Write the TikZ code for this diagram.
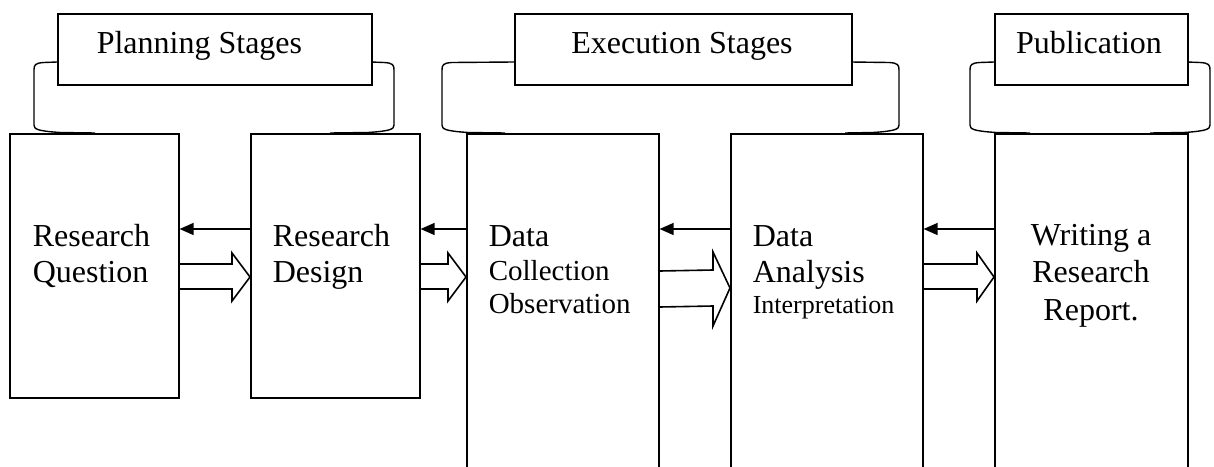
\documentclass[tikz,border=0pt]{standalone}
\usepackage{fontspec}
\setmainfont{Liberation Serif}
\usetikzlibrary{arrows.meta,calc}
\begin{document}
\begin{tikzpicture}[x=0.5pt,y=-0.5pt,line width=0.8pt,
  stagebox/.style={draw,inner sep=0pt,anchor=north west},
  hdrbox/.style={draw,fill=white,inner sep=0pt,anchor=north west,minimum height=35.5pt},
  big/.style={inner sep=0pt,font=\fontsize{16}{18}\selectfont},
  mid/.style={inner sep=0pt,font=\fontsize{14.5}{17}\selectfont},
  small/.style={inner sep=0pt,font=\fontsize{13}{15}\selectfont},
  backarrow/.style={line width=0.7pt,-{Triangle[length=7pt,width=6pt]}},
  blockarrow/.style={draw,line join=miter},
  bracket/.style={draw,line width=0.7pt}]
\useasboundingbox (0,0) rectangle (1214,466);

% stage boxes
\node[stagebox,minimum width=84.5pt,minimum height=132pt] (q) at (9,133) {};
\node[stagebox,minimum width=84.5pt,minimum height=132pt] (d) at (250,133) {};
\node[stagebox,minimum width=96pt,minimum height=200pt] (c) at (466,133) {};
\node[stagebox,minimum width=96pt,minimum height=200pt] (a) at (730,133) {};
\node[stagebox,minimum width=96.5pt,minimum height=200pt] (w) at (994,133) {};

% brackets
\draw[bracket] (57,62) -- (44,62.5) .. controls (35,63) and (34,65) .. (34,70) -- (34,125)
  .. controls (34,129) and (37,131) .. (60,132.5) -- (95,133);
\draw[bracket] (371,62) -- (384,62.5) .. controls (393,63) and (394,65) .. (394,70) -- (394,125)
  .. controls (394,129) and (391,131) .. (368,132.5) -- (330,133);
\draw[bracket] (514,62) -- (452,62.5) .. controls (443,63) and (442,65) .. (442,70) -- (442,125)
  .. controls (442,129) and (445,131) .. (468,132.5) -- (505,133);
\draw[bracket] (851,62) -- (889,62.5) .. controls (898,63) and (899,65) .. (899,70) -- (899,125)
  .. controls (899,129) and (896,131) .. (873,132.5) -- (845,133);
\draw[bracket] (994,62) -- (980,62.5) .. controls (971,63) and (970,65) .. (970,70) -- (970,125)
  .. controls (970,129) and (973,131) .. (996,132.5) -- (1030,133);
\draw[bracket] (1187,62) -- (1200,62.5) .. controls (1209,63) and (1210,65) .. (1210,70) -- (1210,125)
  .. controls (1210,129) and (1207,131) .. (1184,132.5) -- (1150,133);

% header boxes
\node[hdrbox,minimum width=157pt] (ph) at (57,13) {};
\node[hdrbox,minimum width=168.5pt] (eh) at (514,13) {};
\node[hdrbox,minimum width=96.5pt] (uh) at (994,13) {};
\node[big,anchor=base west] (pht) at (96,53) {Planning Stages};
\node[big,anchor=base] (eht) at (682,53) {Execution Stages};
\node[big,anchor=base] (uht) at (1089,53) {Publication};

% texts
\node[big,anchor=base west] (q1) at (32,246) {Research};
\node[big,anchor=base west] (q2) at (32,282) {Question};
\node[big,anchor=base west] (d1) at (272,246) {Research};
\node[big,anchor=base west] (d2) at (272,282) {Design};
\node[big,anchor=base west] (c1) at (488,246) {Data};
\node[mid,anchor=base west] (c2) at (488,280) {Collection};
\node[mid,anchor=base west] (c3) at (488,313) {Observation};
\node[big,anchor=base west] (a1) at (752,246) {Data};
\node[big,anchor=base west] (a2) at (752,282) {Analysis};
\node[small,anchor=base west] (a3) at (752,313) {Interpretation};
\node[big,anchor=base] (w1) at (1091,245) {Writing a};
\node[big,anchor=base] (w2) at (1091,282) {Research};
\node[big,anchor=base] (w3) at (1091,320) {Report.};

% feedback arrows
\draw[backarrow] ($(d.north west)+(0,96)$) -- ($(q.north east)+(0,96)$);
\draw[backarrow] ($(c.north west)+(0,96)$) -- ($(d.north east)+(0,96)$);
\draw[backarrow] ($(a.north west)+(0,96)$) -- ($(c.north east)+(0,96)$);
\draw[backarrow] ($(w.north west)+(0,96)$) -- ($(a.north east)+(0,96)$);

% block arrows
\draw[blockarrow] ($(q.north east)+(0,131)$) -- (232,264) -- (232,253) -- ($(d.north west)+(0,144)$)
  -- (232,301) -- (232,289) -- ($(q.north east)+(0,156)$);
\draw[blockarrow] ($(d.north east)+(0,131)$) -- (448,264) -- (448,253) -- ($(c.north west)+(0,144)$)
  -- (448,301) -- (448,289) -- ($(d.north east)+(0,156)$);
\draw[blockarrow] ($(c.north east)+(0,138)$) -- (713,270) -- (713,252) -- ($(a.north west)+(0,155)$)
  -- (713,326) -- (713,306) -- ($(c.north east)+(0,174)$);
\draw[blockarrow] ($(a.north east)+(0,131)$) -- (977,264) -- (977,253) -- ($(w.north west)+(0,144)$)
  -- (977,301) -- (977,289) -- ($(a.north east)+(0,156)$);
\end{tikzpicture}
\end{document}
